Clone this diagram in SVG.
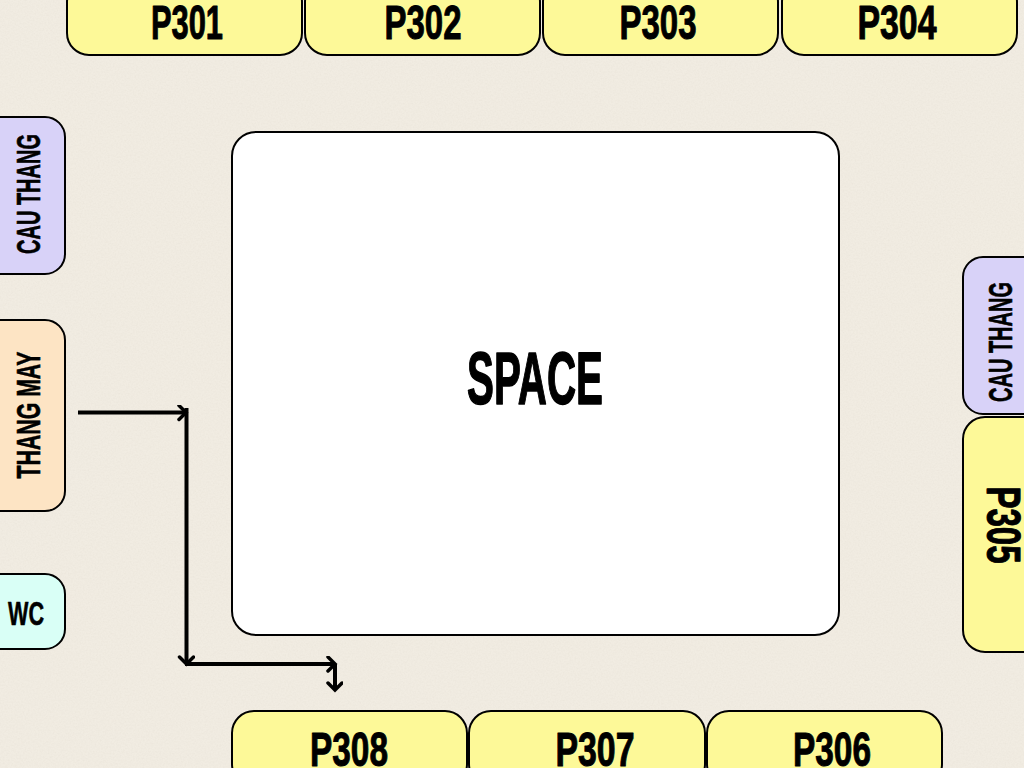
<svg xmlns="http://www.w3.org/2000/svg" width="1024" height="768" viewBox="0 0 1024 768">
<style>
.n{stroke:#000;stroke-width:2}
.y{fill:#fdf998}.p{fill:#d8d2f8}.o{fill:#fde4c4}.c{fill:#d9fff6}
text{font-family:"Liberation Sans",Arial,sans-serif;font-weight:700;fill:#000;stroke:#000;stroke-width:1;stroke-linejoin:round;text-anchor:middle;font-size:48px}
.s{font-size:34px;stroke-width:.6}
.l{fill:none;stroke:#000;stroke-width:4}
</style>
<defs>
<marker id="a" markerUnits="userSpaceOnUse" markerWidth="20" markerHeight="20" refX="10" refY="8" orient="auto"><path d="M3 1L10 8L3 15" fill="none" stroke="#000" stroke-width="3.500" stroke-linecap="round"/></marker>
<filter id="paper" x="0" y="0" width="100%" height="100%"><feTurbulence type="fractalNoise" baseFrequency=".6" numOctaves="3" seed="4"/><feColorMatrix values="0 0 0 0 .55 0 0 0 0 .5 0 0 0 0 .42 .1 .1 .1 0 -.12"/></filter>
</defs>
<rect id="background" width="1024" height="768" fill="#f1ece2"/>
<rect width="1024" height="768" filter="url(#paper)"/>
<g id="space"><rect class="n" x="232" y="132" width="607" height="503" rx="24" fill="#fff"/><text x="535" y="404" style="font-size:74px;stroke-width:1.500" textLength="136" lengthAdjust="spacingAndGlyphs">SPACE</text></g>
<g id="p301"><rect class="n y" x="67" y="-20" width="235" height="75" rx="22"/><text x="187" y="39" textLength="72" lengthAdjust="spacingAndGlyphs">P301</text></g>
<g id="p302"><rect class="n y" x="305" y="-20" width="235" height="75" rx="22"/><text x="423" y="39" textLength="77" lengthAdjust="spacingAndGlyphs">P302</text></g>
<g id="p303"><rect class="n y" x="543" y="-20" width="235" height="75" rx="22"/><text x="658" y="39" textLength="77" lengthAdjust="spacingAndGlyphs">P303</text></g>
<g id="p304"><rect class="n y" x="782" y="-20" width="235" height="75" rx="22"/><text x="897" y="39" textLength="79" lengthAdjust="spacingAndGlyphs">P304</text></g>
<g id="cau-thang-left"><rect class="n p" x="-30" y="117" width="95" height="157" rx="20"/><text class="s" transform="translate(40 194) rotate(-90)" textLength="120" lengthAdjust="spacingAndGlyphs">CAU THANG</text></g>
<g id="thang-may"><rect class="n o" x="-30" y="320" width="95" height="191" rx="20"/><text class="s" transform="translate(40 415) rotate(-90)" textLength="127" lengthAdjust="spacingAndGlyphs">THANG MAY</text></g>
<g id="wc"><rect class="n c" x="-30" y="574" width="95" height="75" rx="20"/><text class="s" x="26" y="625" textLength="36" lengthAdjust="spacingAndGlyphs">WC</text></g>
<g id="cau-thang-right"><rect class="n p" x="963" y="257" width="90" height="157" rx="20"/><text class="s" transform="translate(1012 342) rotate(-90)" textLength="120" lengthAdjust="spacingAndGlyphs">CAU THANG</text></g>
<g id="p305"><rect class="n y" x="963" y="417" width="90" height="235" rx="22"/><text transform="translate(987 525) rotate(90)" textLength="77" lengthAdjust="spacingAndGlyphs">P305</text></g>
<g id="p308"><rect class="n y" x="232" y="711" width="235" height="75" rx="22"/><text x="349" y="766" textLength="78" lengthAdjust="spacingAndGlyphs">P308</text></g>
<g id="p307"><rect class="n y" x="469" y="711" width="236" height="75" rx="22"/><text x="595" y="766" textLength="79" lengthAdjust="spacingAndGlyphs">P307</text></g>
<g id="p306"><rect class="n y" x="707" y="711" width="235" height="75" rx="22"/><text x="832" y="766" textLength="78" lengthAdjust="spacingAndGlyphs">P306</text></g>
<g id="connectors">
<line class="l" x1="78" y1="412.500" x2="186" y2="412.500" marker-end="url(#a)"/>
<line class="l" x1="186.500" y1="408" x2="186.500" y2="664" marker-end="url(#a)"/>
<line class="l" x1="185" y1="664" x2="335" y2="664" marker-end="url(#a)"/>
<line class="l" x1="335" y1="664" x2="335" y2="690" marker-end="url(#a)"/>
</g>
</svg>
